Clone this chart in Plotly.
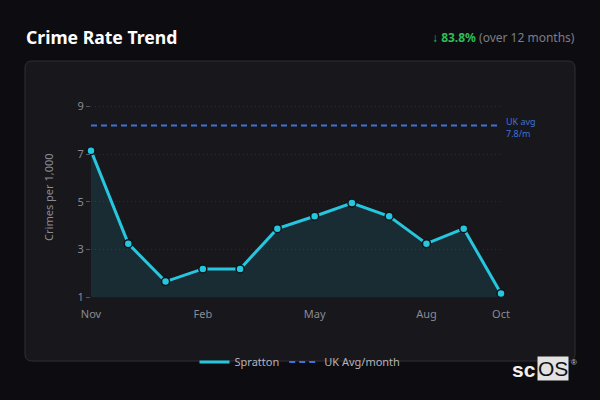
import plotly.graph_objects as go

months = ["Nov", "Dec", "Jan", "Feb", "Mar", "Apr", "May", "Jun", "Jul", "Aug", "Sep", "Oct"]
spratton = [7.15, 3.25, 1.66, 2.19, 2.19, 3.88, 4.4, 4.95, 4.4, 3.25, 3.88, 1.16]
uk_avg = [8.2] * len(months)
tick_months = ["Nov", "Feb", "May", "Aug", "Oct"]
y_ticks = [1, 3, 5, 7, 9]

W, H = 600, 400
BG = "#0d0c11"
CARD = "#17171c"
CYAN = "#26c6de"
BLUE = "#3f72d8"
GREY = "#8b8b93"
FONT = "Noto Sans"


def px_x(v):
    return v / W


def px_y(v):
    return 1 - v / H


def card_path(x0, y0, x1, y1, r):
    # rounded rectangle in paper coordinates
    rx, ry = r / W, r / H
    a, b, c, d = px_x(x0), px_y(y1), px_x(x1), px_y(y0)
    return (f"M {a+rx},{b} L {c-rx},{b} Q {c},{b} {c},{b+ry} "
            f"L {c},{d-ry} Q {c},{d} {c-rx},{d} L {a+rx},{d} "
            f"Q {a},{d} {a},{d-ry} L {a},{b+ry} Q {a},{b} {a+rx},{b} Z")


xs = list(range(len(months)))

fig = go.Figure()
fig.add_trace(go.Scatter(
    x=xs, y=spratton, name="Spratton", mode="lines+markers", showlegend=False,
    line=dict(color=CYAN, width=3),
    marker=dict(size=8, color=CYAN, line=dict(color="#0d1418", width=1.5)),
    fill="tozeroy", fillcolor="rgba(38,198,222,0.12)",
    cliponaxis=False,
))
# legend entry for the area line (line only, no marker)
fig.add_trace(go.Scatter(x=[None], y=[None], name="Spratton", mode="lines",
                         line=dict(color=CYAN, width=3)))
fig.add_trace(go.Scatter(
    x=xs, y=uk_avg, name="UK Avg/month", mode="lines",
    line=dict(color=BLUE, width=2, dash="6px,4px"),
))

fig.update_layout(
    width=W, height=H,
    paper_bgcolor=BG, plot_bgcolor="rgba(0,0,0,0)",
    margin=dict(l=0, r=0, t=0, b=0),
    font=dict(family=FONT, color=GREY, size=11),
    showlegend=True,
    legend=dict(orientation="h", x=0.5, xanchor="center", y=px_y(362), yanchor="middle",
                font=dict(color="#b4b4bc", size=11), bgcolor="rgba(0,0,0,0)"),
    xaxis=dict(domain=[px_x(91), px_x(501)], range=[0, 11], automargin=False,
               tickvals=[months.index(m) for m in tick_months], ticktext=tick_months,
               showgrid=False, zeroline=False, showline=False,
               ticks="outside", ticklen=6, tickcolor="rgba(0,0,0,0)",
               tickfont=dict(color=GREY, size=11)),
    yaxis=dict(domain=[px_y(297.3), px_y(97)], range=[1, 9.4], automargin=False,
               tickvals=y_ticks, showgrid=True, gridcolor="#2b2b31", griddash="1px,3px",
               gridwidth=1,
               zeroline=False, showline=False, ticks="outside", ticklen=4,
               tickcolor="#55555c", tickwidth=1,
               tickfont=dict(color=GREY, size=11),
               title=dict(text="Crimes per 1,000", font=dict(color=GREY, size=11), standoff=21)),
    shapes=[dict(type="path", xref="paper", yref="paper", layer="below",
                 path=card_path(25, 61, 575, 361, 7),
                 fillcolor=CARD, line=dict(color="#2e2e35", width=1))],
)

fig.add_annotation(x=px_x(24), y=px_y(37), xref="paper", yref="paper",
                   xanchor="left", yanchor="middle", showarrow=False,
                   text="<b>Crime Rate Trend</b>",
                   font=dict(family=FONT, size=17.6, color="#ffffff"))
fig.add_annotation(x=px_x(577), y=px_y(37), xref="paper", yref="paper",
                   xanchor="right", yanchor="middle", showarrow=False,
                   text="<span style='color:#2dbd58'>↓ <b>83.8%</b></span> (over 12 months)",
                   font=dict(family=FONT, size=12, color="#7d7d85"))
fig.add_annotation(x=px_x(504), y=px_y(127), xref="paper", yref="paper",
                   xanchor="left", yanchor="middle", showarrow=False, align="left",
                   text="UK avg<br>7.8/m",
                   font=dict(family=FONT, size=9, color=BLUE))
fig.add_annotation(x=px_x(538), y=px_y(369), xref="paper", yref="paper",
                   xanchor="right", yanchor="middle", showarrow=False,
                   text="<b>sc</b>", font=dict(family="Liberation Sans", size=21, color="#f0f0f0"))
fig.add_annotation(x=px_x(537), y=px_y(368), xref="paper", yref="paper",
                   xanchor="left", yanchor="middle", showarrow=False,
                   text="OS", bgcolor="#e2e2e2", borderpad=0,
                   font=dict(family="Liberation Sans", size=21, color="#111111"))
fig.add_annotation(x=px_x(569), y=px_y(362), xref="paper", yref="paper",
                   xanchor="left", yanchor="middle", showarrow=False,
                   text="®", font=dict(family="Liberation Sans", size=8, color="#cccccc"))

fig.write_html("out.html", config={"displayModeBar": False},
               post_script="document.body.style.margin='0';"
                           "document.body.style.background='#0d0c11';")
